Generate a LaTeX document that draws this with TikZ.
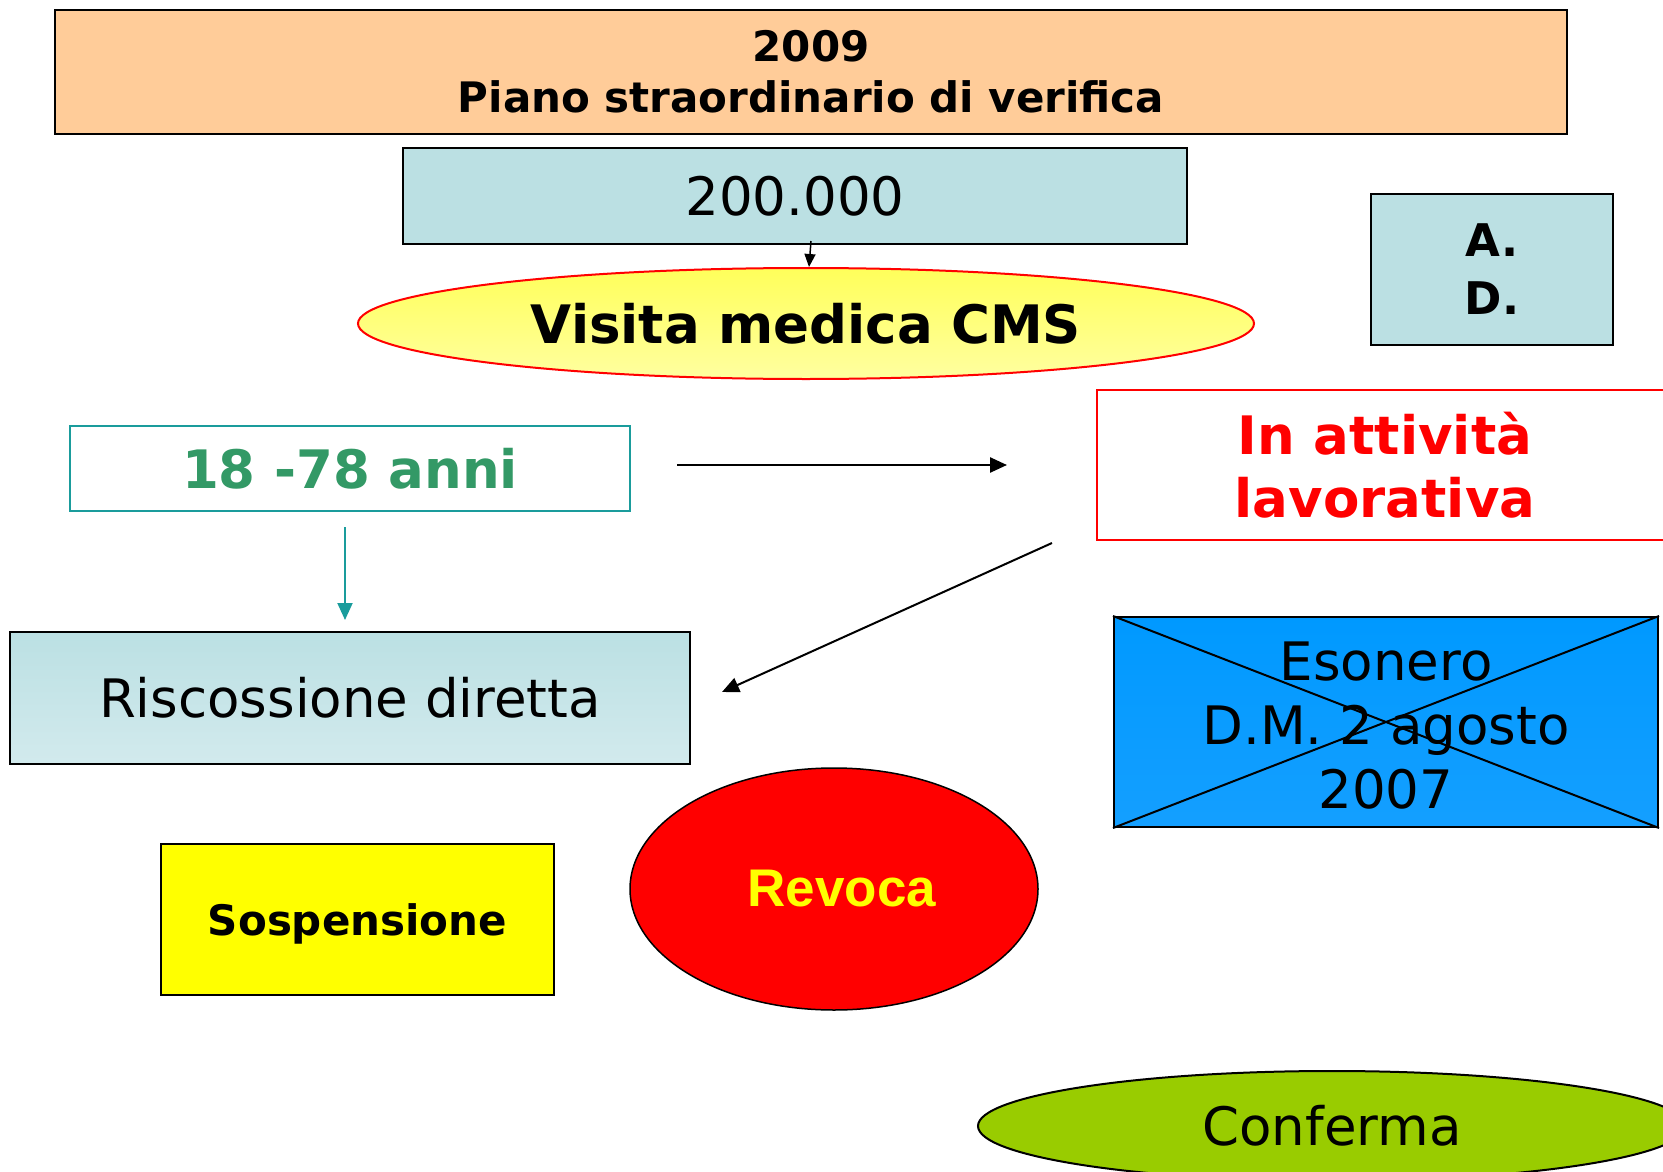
\documentclass[tikz,border=0pt]{standalone}
\usepackage{fontspec}
\setmainfont{DejaVu Sans}
\newfontfamily\arialfont{Liberation Sans}
\usetikzlibrary{shapes.geometric,arrows.meta,calc}
\definecolor{peach}{HTML}{FFCC99}
\definecolor{paleblue}{HTML}{BBE0E3}
\definecolor{paleblue2}{HTML}{D2EAED}
\definecolor{tealb}{HTML}{1A9C9C}
\definecolor{greent}{HTML}{339966}
\definecolor{skya}{HTML}{0099FF}
\definecolor{skyb}{HTML}{149FFF}
\definecolor{limeg}{HTML}{99CC00}
\definecolor{yela}{HTML}{FFFF5A}
\definecolor{yelb}{HTML}{FFFFA0}
\definecolor{pureyellow}{HTML}{FFFF00}
\definecolor{purered}{HTML}{FF0000}
\begin{document}
\begin{tikzpicture}[x=1pt,y=-1pt,
  box/.style={draw=black,line width=2pt,inner sep=0pt,align=center,rectangle},
  big/.style={font=\fontsize{53}{64}\selectfont},
  tip/.style={-{Triangle[length=17pt,width=15pt]}},
  arr/.style={line width=2pt,tip},
]
\useasboundingbox (0,0) rectangle (1663,1172);

\node[box,fill=peach,minimum width=1512pt,minimum height=124pt,
  font=\fontsize{42}{51}\selectfont\bfseries] (title) at (811,72) {2009\\Piano straordinario di verifica};

\node[box,fill=paleblue,minimum width=784pt,minimum height=96pt,big] (num) at (795,196) {200.000};

\node[ellipse,draw=purered,line width=2pt,inner sep=0pt,top color=yela,bottom color=yelb,
  minimum width=896pt,minimum height=111pt,font=\fontsize{53}{64}\selectfont\bfseries] (vis) at (806,323.5) {Visita medica CMS};

\node[box,fill=paleblue,minimum width=242pt,minimum height=151pt,
  font=\fontsize{45}{58}\selectfont\bfseries] (ad) at (1492,269.5) {A.\\D.};

\node[box,draw=purered,fill=white,minimum width=576pt,minimum height=150pt,text=purered,
  font=\fontsize{53}{63}\selectfont\bfseries] (att) at (1385,465) {In attività\\lavorativa};

\node[box,draw=tealb,fill=white,minimum width=560pt,minimum height=85pt,text=greent,
  font=\fontsize{53}{64}\selectfont\bfseries] (age) at (350,468.5) {18 -78 anni};

\node[box,top color=paleblue,bottom color=paleblue2,minimum width=680pt,minimum height=132pt,big] (risc) at (350,698) {Riscossione diretta};

\node[box,top color=skya,bottom color=skyb,minimum width=544pt,minimum height=210pt,
  label={[big,align=center,yshift=-4pt]center:Esonero\\D.M. 2 agosto\\2007}] (eso) at (1386,722) {};
\draw[line width=2pt] (eso.north west) -- (eso.south east);
\draw[line width=2pt] (eso.south west) -- (eso.north east);

\node[box,fill=pureyellow,minimum width=393pt,minimum height=151pt,text height=42pt,text depth=10pt,
  font=\fontsize{42}{51}\selectfont\bfseries] (sosp) at (357.5,919.5) {Sospensione};

\node[ellipse,draw=black,line width=1.5pt,fill=purered,inner sep=0pt,minimum width=408pt,minimum height=242pt,
  text=pureyellow,font=\fontsize{53}{64}\selectfont\arialfont\bfseries] (rev) at (834,889) {\hspace*{16pt}Revoca};

\node[ellipse,draw=black,line width=2pt,fill=limeg,inner sep=0pt,minimum width=708pt,minimum height=110pt,big] (conf) at (1332,1126) {Conferma};

\draw[line width=1.5pt,-{Triangle[length=13pt,width=11pt]}] ([xshift=16pt,yshift=4pt]num.south) -- ([xshift=3pt]vis.north);
\draw[line width=2.5pt,tip,shorten <=46pt,shorten >=89pt] (age.east |- att.west) -- (att.west);
\draw[line width=2pt,draw=tealb,fill=tealb,tip] ([xshift=-5pt,yshift=-15pt]age.south) -- ([xshift=-5pt,yshift=11pt]risc.north);
\draw[arr] ([xshift=-44pt,yshift=-2pt]att.south west) -- ([xshift=31pt,yshift=6pt]risc.east);
\end{tikzpicture}
\end{document}
